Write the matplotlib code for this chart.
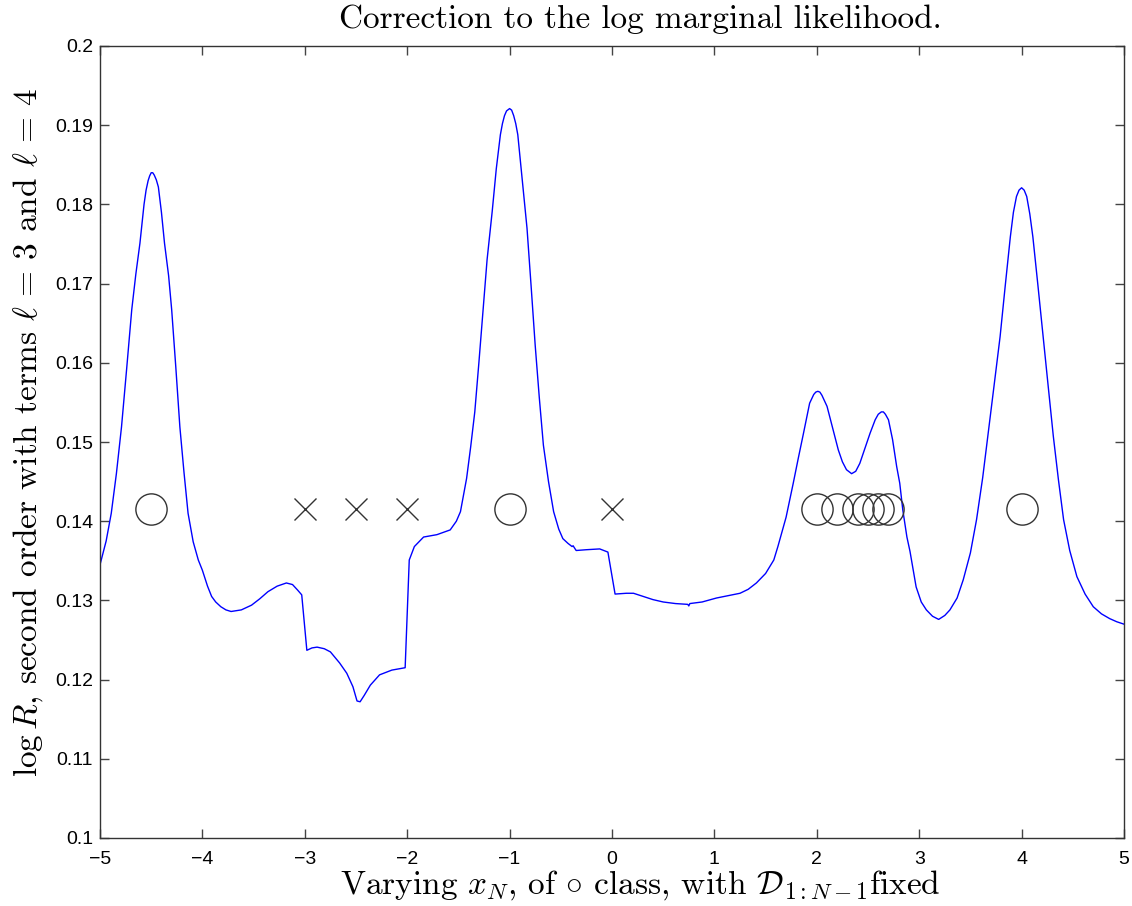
import os
import matplotlib
matplotlib.use("Agg")
import matplotlib.pyplot as plt
from matplotlib import font_manager as fm

plt.rcParams['mathtext.fontset'] = 'cm'
plt.rcParams['axes.unicode_minus'] = True

# ---- data ----
x_curve = [-5.00, -4.94, -4.89, -4.84, -4.79, -4.74, -4.69, -4.65, -4.61, -4.57,
           -4.55, -4.53, -4.515, -4.50, -4.485, -4.47, -4.45, -4.43, -4.40, -4.37,
           -4.33, -4.30, -4.26, -4.22, -4.18, -4.14, -4.09, -4.04, -4.00, -3.95,
           -3.91, -3.87, -3.82, -3.77, -3.72, -3.62, -3.52, -3.44, -3.36, -3.27,
           -3.18, -3.12, -3.07, -3.03, -2.98, -2.93, -2.88, -2.81, -2.75, -2.66,
           -2.59, -2.53, -2.49, -2.46, -2.42, -2.36, -2.27, -2.15, -2.02, -1.98,
           -1.93, -1.84, -1.71, -1.58, -1.52, -1.48, -1.42, -1.38, -1.34, -1.30,
           -1.26, -1.22, -1.17, -1.13, -1.09, -1.07, -1.05, -1.03, -1.00, -0.98,
           -0.96, -0.94, -0.92, -0.88, -0.83, -0.79, -0.75, -0.71, -0.67, -0.62,
           -0.57, -0.52, -0.48, -0.43, -0.39, -0.38, -0.35, -0.25, -0.12, -0.04,
           0.03, 0.14, 0.21, 0.40, 0.50, 0.62, 0.74, 0.75, 0.76, 0.88,
           1.02, 1.25, 1.33, 1.41, 1.50, 1.58, 1.62, 1.70, 1.77, 1.82,
           1.87, 1.93, 1.97, 1.99, 2.01, 2.03, 2.05, 2.10, 2.15, 2.21,
           2.25, 2.29, 2.34, 2.38, 2.42, 2.47, 2.52, 2.57, 2.60, 2.63,
           2.65, 2.67, 2.70, 2.74, 2.78, 2.81, 2.84, 2.88, 2.91, 2.97,
           3.02, 3.07, 3.13, 3.19, 3.25, 3.30, 3.37, 3.43, 3.50, 3.56,
           3.62, 3.67, 3.73, 3.79, 3.84, 3.89, 3.92, 3.95, 3.975, 4.00,
           4.025, 4.05, 4.08, 4.11, 4.16, 4.21, 4.26, 4.31, 4.36, 4.41,
           4.47, 4.54, 4.62, 4.70, 4.78, 4.86, 4.93, 5.00]
y_curve = [0.1345, 0.1375, 0.1410, 0.1460, 0.1519, 0.1592, 0.1667, 0.1712, 0.1751, 0.1800,
           0.1818, 0.1830, 0.1836, 0.1840, 0.1840, 0.1837, 0.1831, 0.1822, 0.1790, 0.1751,
           0.1710, 0.1667, 0.1595, 0.1519, 0.1462, 0.1410, 0.1374, 0.1351, 0.1338, 0.1318,
           0.1305, 0.1298, 0.1292, 0.1288, 0.1286, 0.1288, 0.1294, 0.1302, 0.1311, 0.1318,
           0.1322, 0.1320, 0.1313, 0.1307, 0.1237, 0.1240, 0.1241, 0.1239, 0.1235, 0.1221,
           0.1208, 0.1191, 0.1173, 0.1172, 0.1180, 0.1193, 0.1206, 0.1212, 0.1215, 0.1351,
           0.1368, 0.1380, 0.1383, 0.1389, 0.1400, 0.1412, 0.1454, 0.1494, 0.1538, 0.1600,
           0.1665, 0.1730, 0.1791, 0.1845, 0.1888, 0.1902, 0.1912, 0.1918, 0.1921, 0.1919,
           0.1912, 0.1902, 0.1888, 0.1835, 0.1770, 0.1697, 0.1622, 0.1556, 0.1496, 0.1450,
           0.1412, 0.1390, 0.1378, 0.1372, 0.1368, 0.1369, 0.1363, 0.1364, 0.1365, 0.1361,
           0.1308, 0.1309, 0.1309, 0.1301, 0.1298, 0.1296, 0.1295, 0.1293, 0.1296, 0.1298,
           0.1303, 0.1309, 0.1314, 0.1322, 0.1334, 0.1351, 0.1368, 0.1405, 0.1448, 0.1480,
           0.1511, 0.1549, 0.1560, 0.1563, 0.1564, 0.1563, 0.1559, 0.1545, 0.1520, 0.1490,
           0.1475, 0.1465, 0.1460, 0.1463, 0.1473, 0.1492, 0.1511, 0.1528, 0.1535, 0.1538,
           0.1538, 0.1535, 0.1528, 0.1503, 0.1469, 0.1448, 0.1414, 0.1380, 0.1362, 0.1317,
           0.1298, 0.1288, 0.1280, 0.1276, 0.1281, 0.1288, 0.1303, 0.1326, 0.1360, 0.1402,
           0.1455, 0.1507, 0.1570, 0.1633, 0.1697, 0.1759, 0.1790, 0.1810, 0.1818, 0.1821,
           0.1818, 0.1810, 0.1788, 0.1759, 0.1697, 0.1633, 0.1570, 0.1507, 0.1452, 0.1402,
           0.1363, 0.1330, 0.1308, 0.1292, 0.1283, 0.1277, 0.1273, 0.1270]

x_circles = [-4.5, -1.0, 2.0, 2.2, 2.4, 2.5, 2.6, 2.7, 4.0]
x_crosses = [-3.0, -2.5, -2.0, 0.0]
marker_level = 0.1415

x_ticks = [-5, -4, -3, -2, -1, 0, 1, 2, 3, 4, 5]
x_ticklabels = ['\u22125', '\u22124', '\u22123', '\u22122', '\u22121', '0', '1', '2', '3', '4', '5']
y_ticks = [0.10, 0.11, 0.12, 0.13, 0.14, 0.15, 0.16, 0.17, 0.18, 0.19, 0.20]
y_ticklabels = ['0.1', '0.11', '0.12', '0.13', '0.14', '0.15', '0.16', '0.17', '0.18', '0.19', '0.2']

title_text = 'Correction to the log marginal likelihood.'
xlabel_text = r'Varying $x_N$, of $\circ$ class, with $\mathcal{D}_{1:N-1}$fixed'
ylabel_text = r'$\log R$, second order with terms $\ell\,=\,3$ and $\ell\,=\,4$'

# ---- tick font: pick the regular (non-narrow) Liberation Sans file explicitly ----
_cands = [f.fname for f in fm.fontManager.ttflist
          if os.path.basename(f.fname).lower() == 'liberationsans-regular.ttf']
if _cands:
    tick_fp = fm.FontProperties(fname=_cands[0], size=14)
else:
    tick_fp = fm.FontProperties(family=['Liberation Sans', 'DejaVu Sans'],
                                stretch='normal', size=14)

# ---- figure ----
W, H = 1132, 906
fig = plt.figure(figsize=(W / 100, H / 100), dpi=100)
ax = fig.add_axes([100 / W, 1 - 838 / H, (1124 - 100) / W, (838 - 46) / H])

ax.plot(x_curve, y_curve, color='#0000ff', lw=1.0)
ax.plot(x_circles, [marker_level] * len(x_circles), 'o', ms=22.5, mfc='none',
        mec='#333333', mew=1.0)
ax.plot(x_crosses, [marker_level] * len(x_crosses), 'x', ms=15.5,
        mec='#333333', mew=1.0)

ax.set_xlim(-5, 5)
ax.set_ylim(0.1, 0.2)
ax.set_xticks(x_ticks, x_ticklabels)
ax.set_yticks(y_ticks, y_ticklabels)
ax.tick_params(direction='in', length=6.5, width=1.0, color='#444444',
               top=True, right=True)
ax.tick_params(axis='x', pad=9)
ax.tick_params(axis='y', pad=5)
for lbl in ax.get_xticklabels() + ax.get_yticklabels():
    lbl.set_fontproperties(tick_fp)
for s in ax.spines.values():
    s.set_linewidth(1.0)
    s.set_color('#333333')

fig.text(640 / W, 1 - 28 / H, title_text, family='cmr10', fontsize=24,
         ha='center', va='baseline')
fig.text(640 / W, 1 - 894 / H, xlabel_text, family='cmr10', fontsize=24,
         ha='center', va='baseline')
fig.text(28 / W, 1 - 433 / H, ylabel_text, family='cmr10', fontsize=24,
         ha='center', va='center', rotation=90)

fig.savefig('out.png', dpi=100)
